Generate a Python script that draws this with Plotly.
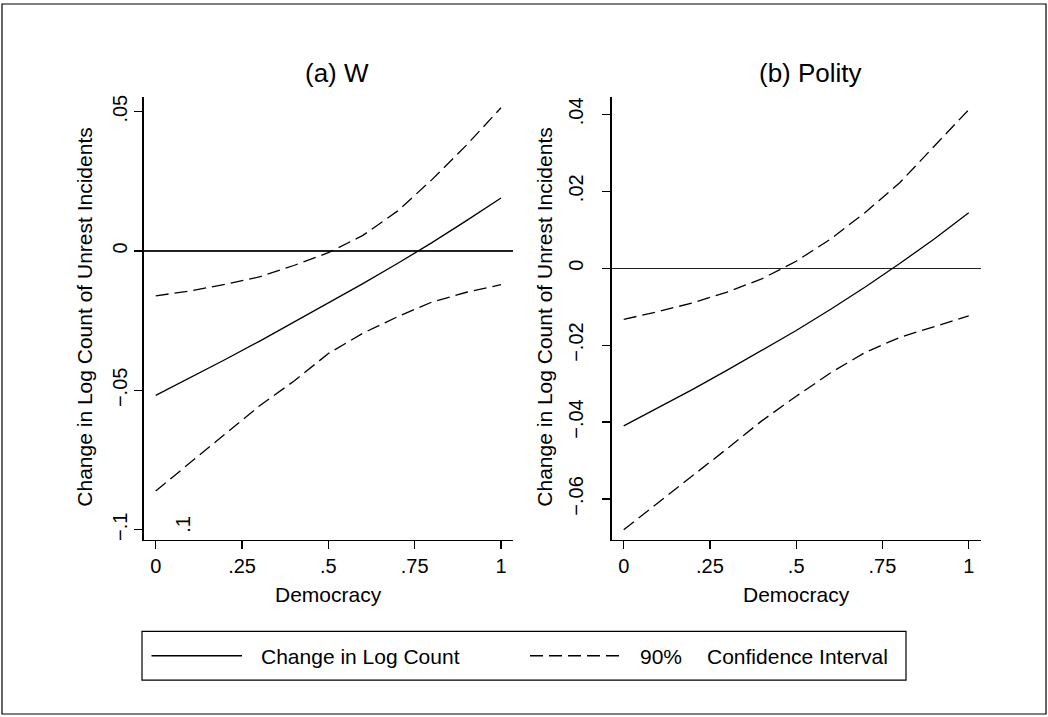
import plotly.graph_objects as go

W, H = 1048, 717
FONT = "Liberation Sans, Arial, Helvetica, sans-serif"

# ---------------- data ----------------
democracy = [0.0, 0.1, 0.2, 0.3, 0.4, 0.5, 0.6, 0.7, 0.8, 0.9, 1.0]

# (a) W
w_est = [-0.0518, -0.0455, -0.0390, -0.0324, -0.0256, -0.0188, -0.0117, -0.0045, 0.0030, 0.0109, 0.0190]
w_upper = [-0.0161, -0.0143, -0.0120, -0.0093, -0.0052, -0.0006, 0.0056, 0.0143, 0.0256, 0.0380, 0.0514]
w_lower = [-0.0861, -0.0759, -0.0657, -0.0556, -0.0467, -0.0368, -0.0295, -0.0236, -0.0183, -0.0148, -0.0121]

# (b) Polity
p_est = [-0.0410, -0.0363, -0.0315, -0.0265, -0.0214, -0.0162, -0.0107, -0.0049, 0.0012, 0.0076, 0.0144]
p_upper = [-0.0133, -0.0113, -0.0090, -0.0062, -0.0028, 0.0018, 0.0076, 0.0145, 0.0222, 0.0318, 0.0412]
p_lower = [-0.0680, -0.0610, -0.0540, -0.0469, -0.0397, -0.0333, -0.0272, -0.0219, -0.0180, -0.0151, -0.0124]

x_tickvals = [0, 0.25, 0.5, 0.75, 1]
x_ticktext = ["0", ".25", ".5", ".75", "1"]
wa_tickvals = [0.05, 0, -0.05, -0.1]
wa_ticktext = [".05", "0", "\u2212.05", "\u2212.1"]
pb_tickvals = [0.04, 0.02, 0, -0.02, -0.04, -0.06]
pb_ticktext = [".04", ".02", "0", "\u2212.02", "\u2212.04", "\u2212.06"]

panel_titles = ["(a) W", "(b) Polity"]
x_title = "Democracy"
y_title = "Change in Log Count of Unrest Incidents"
legend_labels = ["Change in Log Count", "90%", "Confidence Interval"]


def px(x):
    return x / W


def py(y):
    return 1 - y / H


fig = go.Figure()

solid = dict(color="black", width=1.3)
dashed = dict(color="black", width=1.3, dash="13px,6px")

for xa, ya, est, up, lo in [("x", "y", w_est, w_upper, w_lower),
                            ("x2", "y2", p_est, p_upper, p_lower)]:
    fig.add_trace(go.Scatter(x=democracy, y=up, mode="lines", line=dashed,
                             xaxis=xa, yaxis=ya, showlegend=False, hoverinfo="skip"))
    fig.add_trace(go.Scatter(x=democracy, y=lo, mode="lines", line=dashed,
                             xaxis=xa, yaxis=ya, showlegend=False, hoverinfo="skip"))
    fig.add_trace(go.Scatter(x=democracy, y=est, mode="lines", line=solid,
                             xaxis=xa, yaxis=ya, showlegend=False, hoverinfo="skip"))

ydom = [py(540), py(95)]
common_x = dict(range=[-0.0348, 1.0356], tickvals=x_tickvals, ticktext=x_ticktext,
                ticks="outside", ticklen=8, tickwidth=1.2, tickcolor="black",
                showline=True, linecolor="black", linewidth=1.3, showgrid=False,
                zeroline=False, tickfont=dict(size=20, color="black", family=FONT),
                fixedrange=True)
common_y = dict(ticks="outside", ticklen=8, tickwidth=1.2, tickcolor="black",
                showline=True, linecolor="black", linewidth=1.3, showgrid=False,
                zeroline=True, zerolinecolor="#222", zerolinewidth=1.2,
                tickangle=-90, tickfont=dict(size=20, color="black", family=FONT),
                domain=ydom, fixedrange=True)

fig.update_layout(
    width=W, height=H,
    margin=dict(l=0, r=0, t=0, b=0),
    paper_bgcolor="white", plot_bgcolor="white",
    font=dict(family=FONT, color="black"),
    showlegend=False,
    xaxis=dict(domain=[px(143.7), px(513.3)], anchor="y", **common_x),
    xaxis2=dict(domain=[px(611.7), px(981)], anchor="y2", **common_x),
    yaxis=dict(anchor="x", range=[-0.1036, 0.0554], tickvals=wa_tickvals,
               ticktext=wa_ticktext, ticklabelstandoff=-1, **common_y),
    yaxis2=dict(anchor="x2", range=[-0.0706, 0.0446], tickvals=pb_tickvals,
                ticktext=pb_ticktext, ticklabelstandoff=11, **common_y),
)

ann = []
# panel titles
ann.append(dict(text=panel_titles[0], x=px(337), y=py(71), xref="paper", yref="paper",
                xanchor="center", yanchor="middle", showarrow=False,
                font=dict(size=26, family=FONT, color="black")))
ann.append(dict(text=panel_titles[1], x=px(810.5), y=py(71), xref="paper", yref="paper",
                xanchor="center", yanchor="middle", showarrow=False,
                font=dict(size=26, family=FONT, color="black")))
# axis titles
for cx in (328.5, 796.3):
    ann.append(dict(text=x_title, x=px(cx), y=py(595), xref="paper", yref="paper",
                    xanchor="center", yanchor="middle", showarrow=False,
                    font=dict(size=21, family=FONT, color="black")))
for cx in (85, 545):
    ann.append(dict(text=y_title, x=px(cx), y=py(317), xref="paper", yref="paper",
                    xanchor="center", yanchor="middle", showarrow=False, textangle=-90,
                    font=dict(size=21, family=FONT, color="black")))
# stray label inside panel (a)
ann.append(dict(text=".1", x=px(183), y=py(525), xref="paper", yref="paper",
                xanchor="center", yanchor="middle", showarrow=False, textangle=-90,
                font=dict(size=20, family=FONT, color="black")))
# legend texts
ann.append(dict(text=legend_labels[0], x=px(258.5), y=py(657), xref="paper", yref="paper",
                xanchor="left", yanchor="middle", showarrow=False,
                font=dict(size=21, family=FONT, color="black")))
ann.append(dict(text=legend_labels[1], x=px(638), y=py(657), xref="paper", yref="paper",
                xanchor="left", yanchor="middle", showarrow=False,
                font=dict(size=21, family=FONT, color="black")))
ann.append(dict(text=legend_labels[2], x=px(705), y=py(657), xref="paper", yref="paper",
                xanchor="left", yanchor="middle", showarrow=False,
                font=dict(size=21, family=FONT, color="black")))
fig.update_layout(annotations=ann)

shapes = []
# outer frame
shapes.append(dict(type="rect", xref="paper", yref="paper", x0=px(2), x1=px(1046),
                   y0=py(715), y1=py(2), line=dict(color="black", width=1.2)))
# legend box
shapes.append(dict(type="rect", xref="paper", yref="paper", x0=px(142), x1=px(906),
                   y0=py(681), y1=py(632), line=dict(color="black", width=1.2)))
# legend samples
shapes.append(dict(type="line", xref="paper", yref="paper", x0=px(151.5), x1=px(242),
                   y0=py(656.5), y1=py(656.5), line=solid))
shapes.append(dict(type="line", xref="paper", yref="paper", x0=px(530), x1=px(620),
                   y0=py(656.5), y1=py(656.5), line=dashed))
fig.update_layout(shapes=shapes)

fig.write_html("out.html",
               config={"displayModeBar": False, "staticPlot": True},
               post_script="document.body.style.margin='0px';"
                           "document.body.style.overflow='hidden';")
